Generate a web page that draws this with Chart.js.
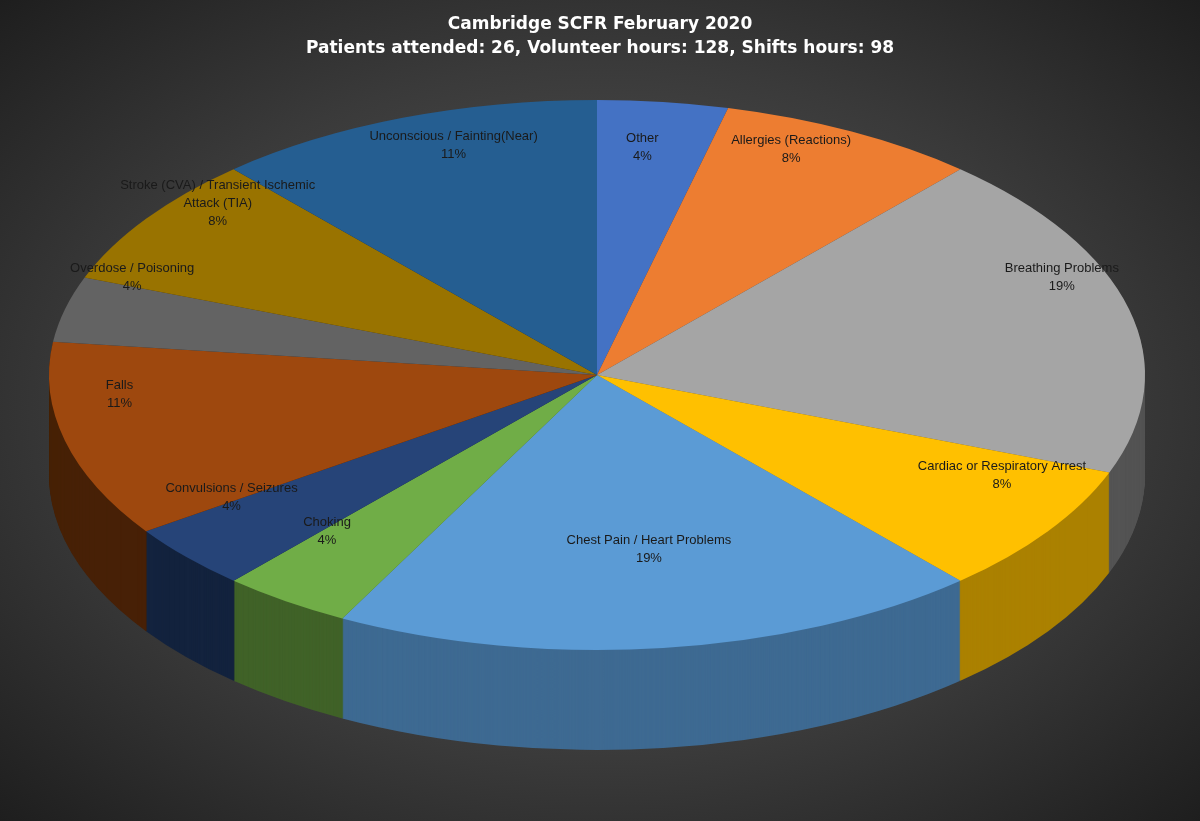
<!DOCTYPE html>
<html><head><meta charset="utf-8">
<script src="https://cdn.jsdelivr.net/npm/chart.js@4"></script>
<style>
html,body{margin:0;padding:0;}
body{width:1200px;height:821px;background:radial-gradient(ellipse at 50% 50%,#5e5e5e 0%,#3a3a3a 60%,#1e1e1e 100%);}
#wrap{position:absolute;left:0;top:0;width:1200px;height:821px;}
</style></head>
<body><div id="wrap"><canvas id="c"></canvas></div>
<script>
const categories = ['Other', 'Allergies (Reactions)', 'Breathing Problems', 'Cardiac or Respiratory Arrest',
  'Chest Pain / Heart Problems', 'Choking', 'Convulsions / Seizures', 'Falls', 'Overdose / Poisoning',
  'Stroke (CVA) / Transient Ischemic Attack (TIA)', 'Unconscious / Fainting(Near)'];
const patients = [1, 2, 5, 2, 5, 1, 1, 3, 1, 2, 3];
const percentLabels = ['4%', '8%', '19%', '8%', '19%', '4%', '4%', '11%', '4%', '8%', '11%'];
const labelLines = [['Other'], ['Allergies (Reactions)'], ['Breathing Problems'], ['Cardiac or Respiratory Arrest'],
  ['Chest Pain / Heart Problems'], ['Choking'], ['Convulsions / Seizures'], ['Falls'], ['Overdose / Poisoning'],
  ['Stroke (CVA) / Transient Ischemic', 'Attack (TIA)'], ['Unconscious / Fainting(Near)']];
const colors = ['#4472c4', '#ed7d31', '#a5a5a5', '#ffc000', '#5b9bd5', '#70ad47', '#264478', '#9e480e', '#636363', '#997300', '#255e91'];

// ellipse geometry of the tilted pie
const CX = 597, CY = 375, RX = 548, RY = 275, DEPTH = 100;

function shade(hex, f) {
  const n = parseInt(hex.slice(1), 16);
  const r = Math.round(((n >> 16) & 255) * f), g = Math.round(((n >> 8) & 255) * f), b = Math.round((n & 255) * f);
  return `rgb(${r},${g},${b})`;
}

const tiltPlugin = {
  id: 'tilt',
  beforeDatasetsDraw(chart) {
    const ctx = chart.ctx;
    const arcs = chart.getDatasetMeta(0).data;
    const R = arcs[0].outerRadius, x0 = arcs[0].x, y0 = arcs[0].y;
    // side walls
    for (let d = DEPTH; d > 0; d -= 1) {
      ctx.save();
      ctx.translate(CX, CY + d);
      ctx.scale(RX / R, RY / R);
      ctx.translate(-x0, -y0);
      arcs.forEach((a, i) => {
        const mid = (a.startAngle + a.endAngle) / 2;
        const f = 0.45 + 0.25 * Math.max(0, Math.cos(mid - Math.PI * 0.35));
        ctx.fillStyle = shade(colors[i], f);
        ctx.beginPath();
        ctx.moveTo(x0, y0);
        ctx.arc(x0, y0, R, a.startAngle, a.endAngle);
        ctx.closePath();
        ctx.fill();
      });
      ctx.restore();
    }
    ctx.save();
    ctx.translate(CX, CY);
    ctx.scale(RX / R, RY / R);
    ctx.translate(-x0, -y0);
  },
  afterDatasetsDraw(chart) {
    const ctx = chart.ctx;
    ctx.restore();
    const arcs = chart.getDatasetMeta(0).data;
    ctx.save();
    ctx.fillStyle = '#1a1a1a';
    ctx.font = '13px "Liberation Sans", Arial, sans-serif';
    ctx.textAlign = 'center';
    ctx.textBaseline = 'middle';
    arcs.forEach((a, i) => {
      const mid = (a.startAngle + a.endAngle) / 2;
      const f = 0.66 + 0.22 * Math.abs(Math.cos(mid)) + 0.1 * Math.max(0, Math.sin(mid));
      const lx = CX + RX * f * Math.cos(mid);
      const ly = CY - 40 + RY * f * Math.sin(mid);
      const lines = labelLines[i].concat([percentLabels[i]]);
      lines.forEach((t, k) => ctx.fillText(t, lx, ly + (k - (lines.length - 1) / 2) * 18));
    });
    ctx.restore();
  }
};

new Chart(document.getElementById('c'), {
  type: 'pie',
  data: {
    labels: categories,
    datasets: [{ data: patients, backgroundColor: colors, borderWidth: 0 }]
  },
  options: {
    responsive: true,
    maintainAspectRatio: false,
    animation: false,
    layout: { padding: { top: 10, bottom: 10 } },
    plugins: {
      legend: { display: false },
      tooltip: { enabled: false },
      title: {
        display: true,
        text: ['Cambridge SCFR February 2020', 'Patients attended: 26, Volunteer hours: 128, Shifts hours: 98'],
        color: '#ffffff',
        font: { size: 17, weight: 'bold', family: '"DejaVu Sans", sans-serif', lineHeight: 1.45 },
        padding: { top: 2, bottom: 10 }
      }
    }
  },
  plugins: [tiltPlugin]
});
</script>
</body></html>
